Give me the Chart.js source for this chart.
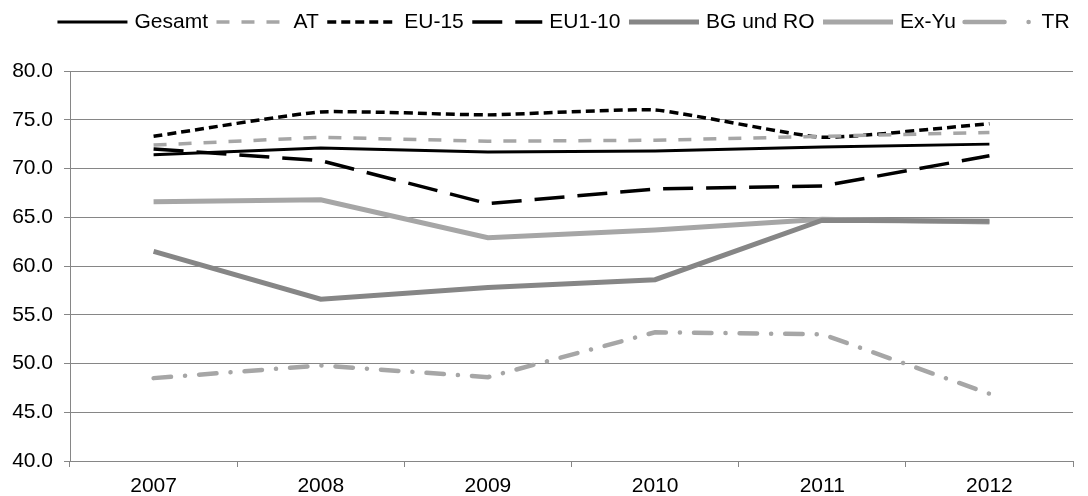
<!DOCTYPE html>
<html>
<head>
<meta charset="utf-8">
<script src="https://cdn.jsdelivr.net/npm/chart.js@4/dist/chart.umd.min.js"></script>
<style>
  html, body { margin: 0; padding: 0; background: #fff; }
  #wrap { width: 1088px; height: 496px; position: relative; }
</style>
</head>
<body>
<div id="wrap"><canvas id="chart"></canvas></div>
<script>
// Data
const years = ['2007', '2008', '2009', '2010', '2011', '2012'];
const gesamt  = [71.4, 72.1, 71.7, 71.8, 72.2, 72.5];
const at      = [72.4, 73.2, 72.8, 72.9, 73.3, 73.7];
const eu15    = [73.3, 75.8, 75.5, 76.0, 73.2, 74.6];
const eu110   = [72.0, 70.8, 66.4, 67.9, 68.2, 71.3];
const bgRo    = [61.5, 56.6, 57.8, 58.6, 64.7, 64.6];
const exYu    = [66.6, 66.8, 62.9, 63.7, 64.8, 64.5];
const tr      = [48.5, 49.8, 48.6, 53.2, 53.0, 46.9];
const yTicks  = [40, 45, 50, 55, 60, 65, 70, 75, 80];

const axisGray = '#868686';
const font = { family: '"Liberation Sans", Arial, sans-serif', size: 21 };

function line(label, data, color, width, dash, cap, tension) {
    return {
        label: label,
        data: data,
        borderColor: color,
        backgroundColor: color,
        borderWidth: width,
        borderDash: dash,
        borderCapStyle: cap || 'butt',
        pointRadius: 0,
        pointHoverRadius: 0,
        fill: false,
        tension: tension || 0
    };
}

const datasets = [
    line('Gesamt', gesamt, '#000000', 3, []),
    line('AT', at, '#a6a6a6', 3.5, [13, 12]),
    line('EU-15', eu15, '#000000', 3.5, [9, 5], 'butt', 0.15),
    line('EU1-10', eu110, '#000000', 3.5, [30, 13]),
    line('BG und RO', bgRo, '#868686', 5, []),
    line('Ex-Yu', exYu, '#a6a6a6', 5, []),
    line('TR', tr, '#a6a6a6', 4.5, [17.5, 14, 0.1, 14], 'round')
];
// the TR legend sample uses a longer dash than the plotted line
datasets[6].legendDash = [40, 24, 0.1, 30];

const sampleLength = 70;
const legendShift = 27; // legend sits a bit right of centre in the original

// legend: fixed height, and sample lines drawn with each dataset's dash
const legendLines = {
    id: 'legendLines',
    beforeInit(chart) {
        const fit = chart.legend.fit;
        chart.legend.fit = function () {
            fit.bind(chart.legend)();
            this.height = 68;
        };
    },
    afterLayout(chart) {
        chart.legend.left += legendShift;
        chart.legend.right += legendShift;
    },
    afterDraw(chart) {
        const ctx = chart.ctx;
        const boxes = chart.legend.legendHitBoxes || [];
        boxes.forEach((box, i) => {
            const ds = chart.data.datasets[i];
            const y = box.top + box.height / 2;
            ctx.save();
            ctx.strokeStyle = ds.borderColor;
            ctx.lineWidth = ds.borderWidth;
            ctx.lineCap = ds.borderCapStyle;
            ctx.setLineDash(ds.legendDash || ds.borderDash);
            ctx.beginPath();
            ctx.moveTo(box.left, y);
            ctx.lineTo(box.left + sampleLength, y);
            ctx.stroke();
            ctx.restore();
        });
    }
};

new Chart(document.getElementById('chart'), {
    type: 'line',
    data: { labels: years, datasets: datasets },
    plugins: [legendLines],
    options: {
        responsive: true,
        maintainAspectRatio: false,
        animation: false,
        layout: { padding: { left: 0, right: 15, top: 3, bottom: 0 } },
        plugins: {
            tooltip: { enabled: false },
            legend: {
                position: 'top',
                labels: {
                    color: '#000',
                    font: font,
                    boxWidth: 66.5,
                    boxHeight: 0,
                    padding: 8.5,
                    generateLabels: (chart) => {
                        const items = Chart.defaults.plugins.legend.labels.generateLabels(chart);
                        items.forEach(it => {
                            it.fillStyle = 'rgba(0,0,0,0)';
                            it.strokeStyle = 'rgba(0,0,0,0)';
                            it.lineWidth = 0;
                        });
                        return items;
                    }
                }
            }
        },
        scales: {
            x: {
                offset: true,
                afterFit: (scale) => { scale.height = 35; },
                grid: {
                    offset: true,
                    drawOnChartArea: false,
                    color: axisGray,
                    tickLength: 6,
                    lineWidth: 1
                },
                border: { color: axisGray, width: 1 },
                ticks: { color: '#000', font: font, padding: 7, maxRotation: 0 }
            },
            y: {
                min: 40,
                max: 80,
                afterBuildTicks: (scale) => { scale.ticks = yTicks.map(v => ({ value: v })); },
                afterFit: (scale) => { scale.width = 70; },
                grid: { color: axisGray, tickLength: 6, lineWidth: 1 },
                border: { color: axisGray, width: 1 },
                ticks: {
                    color: '#000',
                    font: font,
                    padding: 11,
                    callback: (v) => Number(v).toFixed(1)
                }
            }
        }
    }
});
</script>
</body>
</html>
